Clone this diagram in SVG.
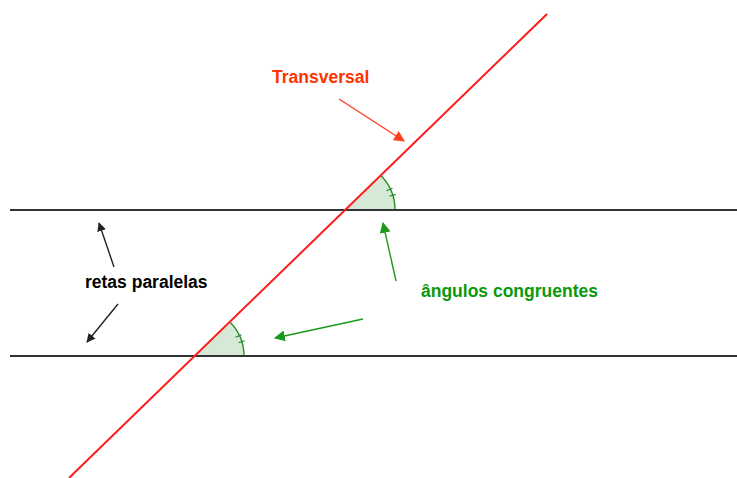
<svg xmlns="http://www.w3.org/2000/svg" width="737" height="478" viewBox="0 0 737 478">
<defs>
<style>
.par{stroke:#333;stroke-width:2;fill:none}
.trans{stroke:#ff1a1a;stroke-width:2;fill:none}
.ang{fill:#d6e8d6;stroke:none}
.arc{fill:none;stroke:#1e8a1e;stroke-width:1.3}
.tick{stroke:#1e8a1e;stroke-width:1.2}
.lbl{font-family:"Liberation Sans",Arial,sans-serif;font-weight:bold;font-size:17.5px}
.ak{stroke:#222;stroke-width:1.4;fill:none}
.ao{stroke:#ff4020;stroke-width:1.4;fill:none}
.ag{stroke:#1a9a1a;stroke-width:1.4;fill:none}
</style>
<marker id="mk" viewBox="0 0 10 10" refX="9" refY="5" markerWidth="9" markerHeight="9" markerUnits="userSpaceOnUse" orient="auto"><path d="M0,0 L10,5 L0,10 z" fill="#222"/></marker>
<marker id="mo" viewBox="0 0 10 10" refX="9" refY="5" markerWidth="11" markerHeight="11" markerUnits="userSpaceOnUse" orient="auto"><path d="M0,0 L10,5 L0,10 z" fill="#ff4020"/></marker>
<marker id="mg" viewBox="0 0 10 10" refX="9" refY="5" markerWidth="11" markerHeight="11" markerUnits="userSpaceOnUse" orient="auto"><path d="M0,0 L10,5 L0,10 z" fill="#1a9a1a"/></marker>
</defs>
<rect width="737" height="478" fill="#fff"/>
<g id="angle-upper">
<path class="ang" d="M346,210 L395,210 A49,49 0 0 0 381.1,175.8 Z"/>
<path class="arc" d="M395,210 A49,49 0 0 0 381.1,175.8"/>
<line class="tick" x1="386.5" y1="190.7" x2="392.5" y2="188.2"/>
<line class="tick" x1="389.6" y1="196.3" x2="395.7" y2="194.4"/>
</g>
<g id="angle-lower">
<path class="ang" d="M196,356 L244,356 A48,48 0 0 0 230.4,322.5 Z"/>
<path class="arc" d="M244,356 A48,48 0 0 0 230.4,322.5"/>
<line class="tick" x1="235.6" y1="337.2" x2="241.5" y2="334.7"/>
<line class="tick" x1="238.6" y1="342.7" x2="244.7" y2="340.8"/>
</g>
<g id="parallel-lines">
<line class="par" x1="10" y1="210" x2="737" y2="210"/>
<line class="par" x1="10" y1="356" x2="737" y2="356"/>
</g>
<g id="transversal">
<line class="trans" x1="547" y1="14" x2="69" y2="478"/>
</g>
<g id="connectors">
<line class="ao" x1="339" y1="99" x2="404" y2="141" marker-end="url(#mo)"/>
<line class="ak" x1="114" y1="267" x2="99" y2="223" marker-end="url(#mk)"/>
<line class="ak" x1="118" y1="304" x2="87" y2="342" marker-end="url(#mk)"/>
<line class="ag" x1="396" y1="281" x2="383" y2="223" marker-end="url(#mg)"/>
<line class="ag" x1="363" y1="319" x2="275" y2="338" marker-end="url(#mg)"/>
</g>
<g id="label-transversal"><text class="lbl" x="272" y="83" fill="#ff3300">Transversal</text></g>
<g id="label-retas"><text class="lbl" x="85" y="288" fill="#000">retas paralelas</text></g>
<g id="label-angulos"><text class="lbl" x="421" y="297" fill="#0a990a">ângulos congruentes</text></g>
</svg>
